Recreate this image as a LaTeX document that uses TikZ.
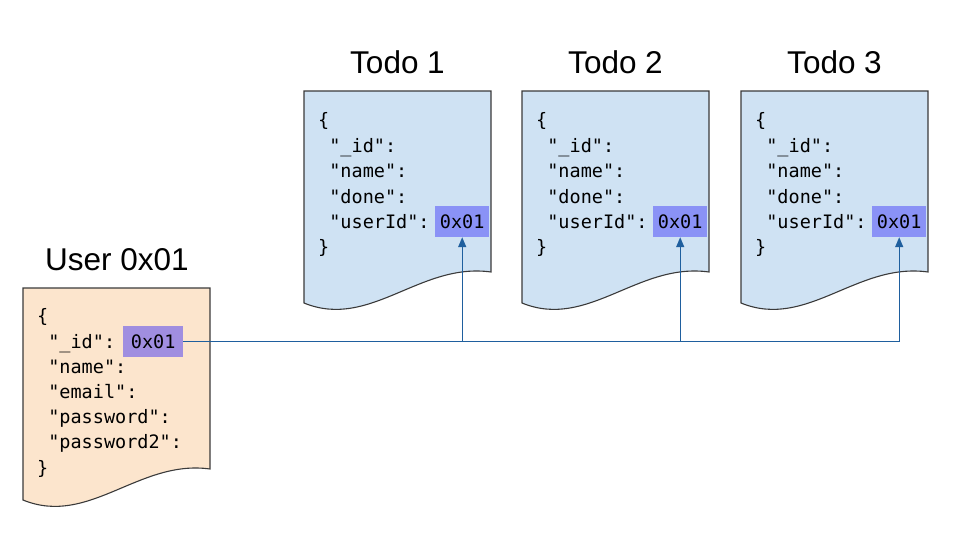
\documentclass[tikz,border=0pt]{standalone}
\usepackage{fontspec}
\setmainfont{Liberation Sans}
\newfontfamily\codefont{DejaVu Sans Mono}
\usetikzlibrary{arrows.meta}
\definecolor{todofill}{HTML}{CFE2F3}
\definecolor{userfill}{HTML}{FCE5CD}
\definecolor{docline}{HTML}{3A3A3A}
\definecolor{hlblue}{HTML}{8A92F6}
\definecolor{hlpurple}{HTML}{A08EE0}
\definecolor{connblue}{HTML}{1F5F9E}
\tikzset{
  docshape/.style={fill=#1, draw=docline, line width=1.1pt},
  title/.style={font=\fontsize{31.5}{34}\selectfont, anchor=base, inner sep=0pt},
  code/.style={font=\codefont\fontsize{18.5}{22}\selectfont, anchor=base west, inner sep=0pt},
  hl/.style={fill=#1, font=\codefont\fontsize{18.5}{22}\selectfont, anchor=base west,
    inner xsep=0pt, inner ysep=0pt, text height=22pt, text depth=9pt, align=center},
  conn/.style={draw=connblue, line width=1.4pt},
  arr/.style={conn, -{Triangle[length=10pt,width=8pt]}}
}
\newcommand{\docpath}[3]{%
  \path[docshape=#3] (#1,#2) -- ++(187,0) -- ++(0,181)
    .. controls ++(-71,-10) and ++(66,27) .. ++(-187,31) -- cycle;}
\begin{document}
\begin{tikzpicture}[x=1pt,y=-1pt]
\useasboundingbox (0,0) rectangle (963,554);
% documents
\docpath{304}{91}{todofill}
\docpath{522}{91}{todofill}
\docpath{741}{91}{todofill}
\docpath{23}{288}{userfill}
% titles
\node[title] (title1) at (397.5,73) {Todo 1};
\node[title] (title2) at (615.5,73) {Todo 2};
\node[title] (title3) at (834.5,73) {Todo 3};
\node[title] (titleu) at (117,270) {User 0x01};
% todo texts
\foreach \k/\x/\bx in {1/318/435, 2/536/653, 3/755/872}{
  \node[code] (t\k a) at (\x,126) {\{};
  \node[code] (t\k b) at (\x,152) {\ "\_id":};
  \node[code] (t\k c) at (\x,177) {\ "name":};
  \node[code] (t\k d) at (\x,203) {\ "done":};
  \node[code] (t\k e) at (\x,228) {\ "userId":};
  \node[code] (t\k f) at (\x,253) {\}};
  \node[hl=hlblue, minimum width=54pt] (t\k) at (\bx,228) {0x01};
}
% user text
\node[code] (ua) at (37,322) {\{};
\node[code] (ub) at (37,348) {\ "\_id":};
\node[code] (uc) at (37,373) {\ "name":};
\node[code] (ud) at (37,398) {\ "email":};
\node[code] (ue) at (37,423) {\ "password":};
\node[code] (uf) at (37,448) {\ "password2":};
\node[code] (ug) at (37,474) {\}};
\node[hl=hlpurple, minimum width=60pt] (u) at (123,348) {0x01};
% connectors
\draw[arr] (u.east) -| (t1.south);
\draw[arr] (u.east) -| (t2.south);
\draw[arr] (u.east) -| (t3.south);
\end{tikzpicture}
\end{document}
